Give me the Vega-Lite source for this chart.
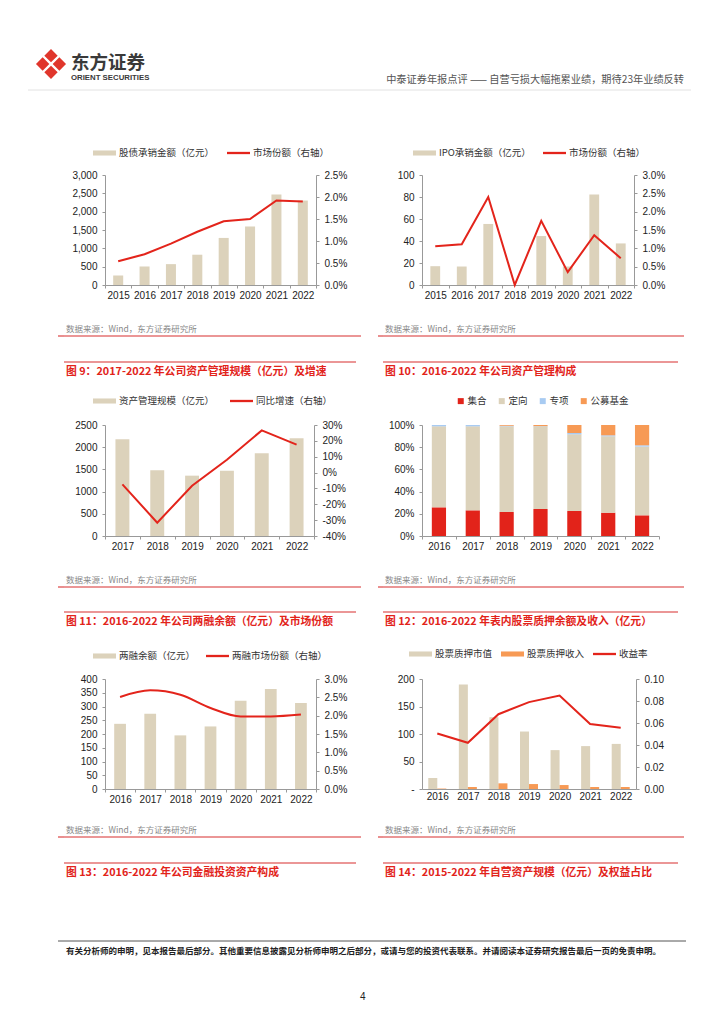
{
  "$schema": "https://vega.github.io/schema/vega-lite/v6.json",
  "background": "white",
  "padding": {"left": 27, "top": 48, "right": 10, "bottom": 10},
  "columns": 8,
  "bounds": "flush",
  "spacing": 0,
  "align": "none",
  "resolve": {"scale": {"color": "independent", "x": "independent", "y": "independent"}, "legend": {"color": "independent"}},
  "config": {
    "view": {"stroke": null},
    "font": "Noto Sans CJK SC",
    "axis": {"labelFont": "Liberation Sans", "labelFontSize": 10, "labelColor": "#222222", "domainColor": "#999999", "tickColor": "#999999", "tickSize": 3, "labelPadding": 5, "grid": false},
    "axisX": {"labelAngle": 0, "tickBand": "extent", "labelPadding": 2},
    "title": {"font": "Noto Sans CJK SC"},
    "legend": {"labelFont": "Noto Sans CJK SC", "labelFontSize": 9.5, "labelColor": "#333333", "padding": 0}
  },
  "datasets": {
    "uw": [
      {"year": "2015", "amount": 257, "share": 0.0054},
      {"year": "2016", "amount": 505, "share": 0.0070},
      {"year": "2017", "amount": 569, "share": 0.0094},
      {"year": "2018", "amount": 826, "share": 0.0121},
      {"year": "2019", "amount": 1284, "share": 0.0145},
      {"year": "2020", "amount": 1596, "share": 0.0150},
      {"year": "2021", "amount": 2468, "share": 0.0192},
      {"year": "2022", "amount": 2303, "share": 0.0190}
    ],
    "ipo": [
      {"year": "2015", "amount": 17.1, "share": 0.0106},
      {"year": "2016", "amount": 16.8, "share": 0.0111},
      {"year": "2017", "amount": 55.5, "share": 0.0240},
      {"year": "2018", "amount": 0, "share": 0.0},
      {"year": "2019", "amount": 44.5, "share": 0.0175},
      {"year": "2020", "amount": 16.8, "share": 0.0035},
      {"year": "2021", "amount": 82.3, "share": 0.0136},
      {"year": "2022", "amount": 37.8, "share": 0.0073}
    ],
    "am": [
      {"year": "2017", "aum": 2177, "growth": -0.074},
      {"year": "2018", "aum": 1479, "growth": -0.316},
      {"year": "2019", "aum": 1359, "growth": -0.083},
      {"year": "2020", "aum": 1471, "growth": 0.081},
      {"year": "2021", "aum": 1862, "growth": 0.266},
      {"year": "2022", "aum": 2200, "growth": 0.176}
    ],
    "ammix": [
      {"year": "2016", "type": "集合", "rank": 1, "pct": 25.8},
      {"year": "2016", "type": "定向", "rank": 2, "pct": 73.0},
      {"year": "2016", "type": "专项", "rank": 3, "pct": 1.2},
      {"year": "2016", "type": "公募基金", "rank": 4, "pct": 0},
      {"year": "2017", "type": "集合", "rank": 1, "pct": 23.1},
      {"year": "2017", "type": "定向", "rank": 2, "pct": 75.7},
      {"year": "2017", "type": "专项", "rank": 3, "pct": 1.2},
      {"year": "2017", "type": "公募基金", "rank": 4, "pct": 0},
      {"year": "2018", "type": "集合", "rank": 1, "pct": 21.6},
      {"year": "2018", "type": "定向", "rank": 2, "pct": 77.2},
      {"year": "2018", "type": "专项", "rank": 3, "pct": 0.5},
      {"year": "2018", "type": "公募基金", "rank": 4, "pct": 0.7},
      {"year": "2019", "type": "集合", "rank": 1, "pct": 24.3},
      {"year": "2019", "type": "定向", "rank": 2, "pct": 74.5},
      {"year": "2019", "type": "专项", "rank": 3, "pct": 0.2},
      {"year": "2019", "type": "公募基金", "rank": 4, "pct": 1.0},
      {"year": "2020", "type": "集合", "rank": 1, "pct": 22.5},
      {"year": "2020", "type": "定向", "rank": 2, "pct": 69.1},
      {"year": "2020", "type": "专项", "rank": 3, "pct": 1.2},
      {"year": "2020", "type": "公募基金", "rank": 4, "pct": 7.2},
      {"year": "2021", "type": "集合", "rank": 1, "pct": 21.0},
      {"year": "2021", "type": "定向", "rank": 2, "pct": 68.8},
      {"year": "2021", "type": "专项", "rank": 3, "pct": 0.9},
      {"year": "2021", "type": "公募基金", "rank": 4, "pct": 9.3},
      {"year": "2022", "type": "集合", "rank": 1, "pct": 18.6},
      {"year": "2022", "type": "定向", "rank": 2, "pct": 61.9},
      {"year": "2022", "type": "专项", "rank": 3, "pct": 1.2},
      {"year": "2022", "type": "公募基金", "rank": 4, "pct": 18.3}
    ],
    "margin": [
      {"year": "2016", "balance": 237, "share": 0.0251},
      {"year": "2017", "balance": 274, "share": 0.0269},
      {"year": "2018", "balance": 195, "share": 0.0257},
      {"year": "2019", "balance": 227.5, "share": 0.0221},
      {"year": "2020", "balance": 321, "share": 0.0198},
      {"year": "2021", "balance": 364, "share": 0.0198},
      {"year": "2022", "balance": 312.6, "share": 0.0203}
    ],
    "pledge": [
      {"year": "2016", "series": "股票质押市值", "value": 20},
      {"year": "2016", "series": "股票质押收入", "value": 0.8},
      {"year": "2017", "series": "股票质押市值", "value": 190},
      {"year": "2017", "series": "股票质押收入", "value": 3.6},
      {"year": "2018", "series": "股票质押市值", "value": 130.5},
      {"year": "2018", "series": "股票质押收入", "value": 10.3},
      {"year": "2019", "series": "股票质押市值", "value": 104.5},
      {"year": "2019", "series": "股票质押收入", "value": 9.0},
      {"year": "2020", "series": "股票质押市值", "value": 70.7},
      {"year": "2020", "series": "股票质押收入", "value": 7.2},
      {"year": "2021", "series": "股票质押市值", "value": 78},
      {"year": "2021", "series": "股票质押收入", "value": 3.6},
      {"year": "2022", "series": "股票质押市值", "value": 82},
      {"year": "2022", "series": "股票质押收入", "value": 3.6}
    ],
    "pledgeyield": [
      {"year": "2016", "yield": 0.0505},
      {"year": "2017", "yield": 0.042},
      {"year": "2018", "yield": 0.068},
      {"year": "2019", "yield": 0.079},
      {"year": "2020", "yield": 0.085},
      {"year": "2021", "yield": 0.059},
      {"year": "2022", "yield": 0.0556}
    ]
  },
  "concat": [
    {"width": 16, "height": 30, "data": {"values": []}, "mark": "point"},
    {"width": 14, "height": 30, "data": {"values": [{"brand": "东方证券"}]},
     "mark": {"type": "point", "filled": true, "color": "#e0362c", "opacity": 1, "size": 1115,
              "shape": "M-0.9,0L-0.5,-0.4L-0.1,0L-0.5,0.4Z M0,-0.9L0.4,-0.5L0,-0.1L-0.4,-0.5Z M0.9,0L0.5,0.4L0.1,0L0.5,-0.4Z M0,0.9L-0.4,0.5L0,0.1L0.4,0.5Z"}},
    {"width": 1, "height": 30, "data": {"values": []}, "mark": "point"},
    {"width": 1, "height": 30, "data": {"values": []}, "mark": "point",
     "title": {"text": "东方证券", "subtitle": "ORIENT SECURITIES", "orient": "bottom", "anchor": "start", "frame": "group", "offset": -25, "dx": 7, "fontSize": 18.5, "fontWeight": "bold", "color": "#3a3a3a", "subtitleFont": "Liberation Sans", "subtitleFontSize": 7.8, "subtitleFontWeight": "bold", "subtitleColor": "#3a3a3a", "subtitlePadding": 1}},
    {"width": 1, "height": 30, "data": {"values": []}, "mark": "point"},
    {"width": 1, "height": 30, "data": {"values": []}, "mark": "point"},
    {"width": 1, "height": 30, "data": {"values": []}, "mark": "point"},
    {"width": 262, "height": 30, "data": {"values": []}, "mark": "point",
     "title": {"text": "中泰证券年报点评 —— 自营亏损大幅拖累业绩，期待23年业绩反转", "orient": "bottom", "anchor": "end", "frame": "group", "offset": -4, "fontSize": 10.2, "fontWeight": "normal", "color": "#555555"}},

    {"width": 1, "height": 11, "data": {"values": []}, "mark": "point"},
    {"width": 1, "height": 11, "data": {"values": []}, "mark": "point"},
    {"width": 1, "height": 11, "data": {"values": []}, "mark": "point"},
    {"width": 1, "height": 11, "data": {"values": []}, "mark": "point"},
    {"width": 1, "height": 11, "data": {"values": []}, "mark": "point"},
    {"width": 1, "height": 11, "data": {"values": []}, "mark": "point"},
    {"width": 1, "height": 11, "data": {"values": []}, "mark": "point"},
    {"width": 1, "height": 11, "data": {"values": []}, "mark": "point"},

    {"width": 16, "height": 85, "data": {"values": [{"line": "页眉线"}]}, "mark": {"type": "rule", "color": "#e2e2e2", "strokeWidth": 1}, "encoding": {"y": {"datum": 1, "type": "quantitative", "scale": {"domain": [0, 1]}, "axis": null}}},
    {"width": 14, "height": 85, "data": {"values": [{"line": "页眉线"}]}, "mark": {"type": "rule", "color": "#e2e2e2", "strokeWidth": 1}, "encoding": {"y": {"datum": 1, "type": "quantitative", "scale": {"domain": [0, 1]}, "axis": null}}},
    {"width": 6, "height": 85, "data": {"values": [{"line": "页眉线"}]}, "mark": {"type": "rule", "color": "#e2e2e2", "strokeWidth": 1}, "encoding": {"y": {"datum": 1, "type": "quantitative", "scale": {"domain": [0, 1]}, "axis": null}}},
    {"width": 41, "height": 85, "data": {"values": [{"line": "页眉线"}]}, "mark": {"type": "rule", "color": "#e2e2e2", "strokeWidth": 1}, "encoding": {"y": {"datum": 1, "type": "quantitative", "scale": {"domain": [0, 1]}, "axis": null}}},
    {"width": 273, "height": 85, "data": {"values": [{"line": "页眉线"}]}, "mark": {"type": "rule", "color": "#e2e2e2", "strokeWidth": 1}, "encoding": {"y": {"datum": 1, "type": "quantitative", "scale": {"domain": [0, 1]}, "axis": null}}},
    {"width": 5, "height": 85, "data": {"values": [{"line": "页眉线"}]}, "mark": {"type": "rule", "color": "#e2e2e2", "strokeWidth": 1}, "encoding": {"y": {"datum": 1, "type": "quantitative", "scale": {"domain": [0, 1]}, "axis": null}}},
    {"width": 39, "height": 85, "data": {"values": [{"line": "页眉线"}]}, "mark": {"type": "rule", "color": "#e2e2e2", "strokeWidth": 1}, "encoding": {"y": {"datum": 1, "type": "quantitative", "scale": {"domain": [0, 1]}, "axis": null}}},
    {"width": 269, "height": 85, "data": {"values": [{"line": "页眉线"}]}, "mark": {"type": "rule", "color": "#e2e2e2", "strokeWidth": 1}, "encoding": {"y": {"datum": 1, "type": "quantitative", "scale": {"domain": [0, 1]}, "axis": null}}},

    {"width": 1, "height": 110, "data": {"values": []}, "mark": "point"},
    {"width": 1, "height": 110, "data": {"values": []}, "mark": "point"},
    {"width": 1, "height": 110, "data": {"values": []}, "mark": "point"},
    {"width": 1, "height": 110, "data": {"values": []}, "mark": "point"},
    {"width": 211, "height": 110, "data": {"name": "uw"},
     "encoding": {"x": {"field": "year", "type": "ordinal", "title": null, "scale": {"paddingInner": 0, "paddingOuter": 0}}},
     "layer": [
       {"mark": {"type": "bar", "width": {"band": 0.38}},
        "encoding": {
          "y": {"field": "amount", "type": "quantitative", "title": null, "scale": {"domain": [0, 3000]}, "axis": {"values": [0, 500, 1000, 1500, 2000, 2500, 3000], "format": ",d"}},
          "color": {"datum": "股债承销金额（亿元）", "scale": {"domain": ["股债承销金额（亿元）", "市场份额（右轴）"], "range": ["#dcd2bb", "#e3241b"]},
            "legend": {"orient": "none", "legendX": -12, "legendY": -33.5, "direction": "horizontal", "columns": 2, "title": null, "columnPadding": 12, "labelOffset": 3, "symbolType": "M-1,-0.22H1V0.22H-1Z", "symbolSize": 529, "symbolStrokeWidth": 0,
              "encode": {"symbols": {"update": {"shape": {"signal": "datum.value === '市场份额（右轴）' ? 'M-1,-0.1H1V0.1H-1Z' : 'M-1,-0.22H1V0.22H-1Z'"}, "fill": {"signal": "datum.value === '市场份额（右轴）' ? '#e3241b' : '#dcd2bb'"}, "opacity": {"value": 1}}}}}}}},
       {"mark": {"type": "line", "strokeWidth": 2},
        "encoding": {
          "y": {"field": "share", "type": "quantitative", "title": null, "scale": {"domain": [0, 0.025]}, "axis": {"orient": "right", "values": [0, 0.005, 0.01, 0.015, 0.02, 0.025], "format": ".1%"}},
          "color": {"datum": "市场份额（右轴）"}}}
     ],
     "resolve": {"scale": {"y": "independent"}}},
    {"width": 1, "height": 110, "data": {"values": []}, "mark": "point"},
    {"width": 1, "height": 110, "data": {"values": []}, "mark": "point"},
    {"width": 212, "height": 110, "data": {"name": "ipo"},
     "encoding": {"x": {"field": "year", "type": "ordinal", "title": null, "scale": {"paddingInner": 0, "paddingOuter": 0}}},
     "layer": [
       {"mark": {"type": "bar", "width": {"band": 0.37}},
        "encoding": {
          "y": {"field": "amount", "type": "quantitative", "title": null, "scale": {"domain": [0, 100]}, "axis": {"values": [0, 20, 40, 60, 80, 100], "format": "d"}},
          "color": {"datum": "IPO承销金额（亿元）", "scale": {"domain": ["IPO承销金额（亿元）", "市场份额（右轴）"], "range": ["#dcd2bb", "#e3241b"]},
            "legend": {"orient": "none", "legendX": -9, "legendY": -33.5, "direction": "horizontal", "columns": 2, "title": null, "columnPadding": 12, "labelOffset": 3, "symbolType": "M-1,-0.22H1V0.22H-1Z", "symbolSize": 529, "symbolStrokeWidth": 0,
              "encode": {"symbols": {"update": {"shape": {"signal": "datum.value === '市场份额（右轴）' ? 'M-1,-0.1H1V0.1H-1Z' : 'M-1,-0.22H1V0.22H-1Z'"}, "fill": {"signal": "datum.value === '市场份额（右轴）' ? '#e3241b' : '#dcd2bb'"}, "opacity": {"value": 1}}}}}}}},
       {"mark": {"type": "line", "strokeWidth": 2},
        "encoding": {
          "y": {"field": "share", "type": "quantitative", "title": null, "scale": {"domain": [0, 0.03]}, "axis": {"orient": "right", "values": [0, 0.005, 0.01, 0.015, 0.02, 0.025, 0.03], "format": ".1%"}},
          "color": {"datum": "市场份额（右轴）"}}}
     ],
     "resolve": {"scale": {"y": "independent"}}},

    {"width": 1, "height": 51, "data": {"values": []}, "mark": "point"},
    {"width": 1, "height": 51, "data": {"values": []}, "mark": "point"},
    {"width": 1, "height": 51, "data": {"values": []}, "mark": "point"},
    {"width": 1, "height": 51, "data": {"values": []}, "mark": "point"},
    {"width": 1, "height": 51, "data": {"values": []}, "mark": "point"},
    {"width": 1, "height": 51, "data": {"values": []}, "mark": "point"},
    {"width": 1, "height": 51, "data": {"values": []}, "mark": "point"},
    {"width": 1, "height": 51, "data": {"values": []}, "mark": "point"},

    {"width": 1, "height": 26, "data": {"values": []}, "mark": "point"},
    {"width": 1, "height": 26, "data": {"values": []}, "mark": "point"},
    {"width": 6, "height": 26, "data": {"values": [{"line": "来源线"}]}, "mark": {"type": "rule", "color": "#e57373", "strokeWidth": 1.6}, "encoding": {"y": {"datum": 1, "type": "quantitative", "scale": {"domain": [0, 1]}, "axis": null}},
     "title": {"text": "数据来源：Wind，东方证券研究所", "orient": "top", "anchor": "start", "frame": "group", "offset": 2, "dx": 8, "fontSize": 8.5, "fontWeight": "normal", "color": "#888888"}},
    {"width": 41, "height": 26, "data": {"values": [{"line": "来源线"}]}, "mark": {"type": "rule", "color": "#e57373", "strokeWidth": 1.6}, "encoding": {"y": {"datum": 1, "type": "quantitative", "scale": {"domain": [0, 1]}, "axis": null}}},
    {"width": 256, "height": 26, "data": {"values": [{"line": "来源线"}]}, "mark": {"type": "rule", "color": "#e57373", "strokeWidth": 1.6}, "encoding": {"y": {"datum": 1, "type": "quantitative", "scale": {"domain": [0, 1]}, "axis": null}}},
    {"width": 5, "height": 26, "data": {"values": [{"line": "来源线"}]}, "mark": {"type": "rule", "color": "#e57373", "strokeWidth": 1.6}, "encoding": {"y": {"datum": 1, "type": "quantitative", "scale": {"domain": [0, 1]}, "axis": null}},
     "title": {"text": "数据来源：Wind，东方证券研究所", "orient": "top", "anchor": "start", "frame": "group", "offset": 2, "dx": 7, "fontSize": 8.5, "fontWeight": "normal", "color": "#888888"}},
    {"width": 39, "height": 26, "data": {"values": [{"line": "来源线"}]}, "mark": {"type": "rule", "color": "#e57373", "strokeWidth": 1.6}, "encoding": {"y": {"datum": 1, "type": "quantitative", "scale": {"domain": [0, 1]}, "axis": null}}},
    {"width": 262, "height": 26, "data": {"values": [{"line": "来源线"}]}, "mark": {"type": "rule", "color": "#e57373", "strokeWidth": 1.6}, "encoding": {"y": {"datum": 1, "type": "quantitative", "scale": {"domain": [0, 1]}, "axis": null}}},

    {"width": 1, "height": 1, "data": {"values": []}, "mark": "point"},
    {"width": 1, "height": 1, "data": {"values": []}, "mark": "point"},
    {"width": 1, "height": 1, "data": {"values": []}, "mark": "point"},
    {"width": 41, "height": 1, "data": {"values": [{"line": "图注线"}]}, "mark": {"type": "rule", "color": "#e57373", "strokeWidth": 1.6}, "encoding": {"y": {"datum": 1, "type": "quantitative", "scale": {"domain": [0, 1]}, "axis": null}},
     "title": {"text": "图 9：2017-2022 年公司资产管理规模（亿元）及增速", "orient": "bottom", "anchor": "start", "frame": "group", "offset": 3, "dx": 2, "fontSize": 10.8, "fontWeight": "bold", "color": "#e2231a"}},
    {"width": 251, "height": 1, "data": {"values": [{"line": "图注线"}]}, "mark": {"type": "rule", "color": "#e57373", "strokeWidth": 1.6}, "encoding": {"y": {"datum": 1, "type": "quantitative", "scale": {"domain": [0, 1]}, "axis": null}}},
    {"width": 1, "height": 1, "data": {"values": []}, "mark": "point"},
    {"width": 39, "height": 1, "data": {"values": [{"line": "图注线"}]}, "mark": {"type": "rule", "color": "#e57373", "strokeWidth": 1.6}, "encoding": {"y": {"datum": 1, "type": "quantitative", "scale": {"domain": [0, 1]}, "axis": null}},
     "title": {"text": "图 10：2016-2022 年公司资产管理构成", "orient": "bottom", "anchor": "start", "frame": "group", "offset": 3, "dx": 2, "fontSize": 10.8, "fontWeight": "bold", "color": "#e2231a"}},
    {"width": 256, "height": 1, "data": {"values": [{"line": "图注线"}]}, "mark": {"type": "rule", "color": "#e57373", "strokeWidth": 1.6}, "encoding": {"y": {"datum": 1, "type": "quantitative", "scale": {"domain": [0, 1]}, "axis": null}}},

    {"width": 1, "height": 62, "data": {"values": []}, "mark": "point"},
    {"width": 1, "height": 62, "data": {"values": []}, "mark": "point"},
    {"width": 1, "height": 62, "data": {"values": []}, "mark": "point"},
    {"width": 1, "height": 62, "data": {"values": []}, "mark": "point"},
    {"width": 1, "height": 62, "data": {"values": []}, "mark": "point"},
    {"width": 1, "height": 62, "data": {"values": []}, "mark": "point"},
    {"width": 1, "height": 62, "data": {"values": []}, "mark": "point"},
    {"width": 1, "height": 62, "data": {"values": []}, "mark": "point"},

    {"width": 1, "height": 111, "data": {"values": []}, "mark": "point"},
    {"width": 1, "height": 111, "data": {"values": []}, "mark": "point"},
    {"width": 1, "height": 111, "data": {"values": []}, "mark": "point"},
    {"width": 1, "height": 111, "data": {"values": []}, "mark": "point"},
    {"width": 209, "height": 111, "data": {"name": "am"},
     "encoding": {"x": {"field": "year", "type": "ordinal", "title": null, "scale": {"paddingInner": 0, "paddingOuter": 0}}},
     "layer": [
       {"mark": {"type": "bar", "width": {"band": 0.4}},
        "encoding": {
          "y": {"field": "aum", "type": "quantitative", "title": null, "scale": {"domain": [0, 2500]}, "axis": {"values": [0, 500, 1000, 1500, 2000, 2500], "format": "d"}},
          "color": {"datum": "资产管理规模（亿元）", "scale": {"domain": ["资产管理规模（亿元）", "同比增速（右轴）"], "range": ["#dcd2bb", "#e3241b"]},
            "legend": {"orient": "none", "legendX": -12, "legendY": -35.5, "direction": "horizontal", "columns": 2, "title": null, "columnPadding": 15, "labelOffset": 3, "symbolType": "M-1,-0.22H1V0.22H-1Z", "symbolSize": 529, "symbolStrokeWidth": 0,
              "encode": {"symbols": {"update": {"shape": {"signal": "datum.value === '同比增速（右轴）' ? 'M-1,-0.1H1V0.1H-1Z' : 'M-1,-0.22H1V0.22H-1Z'"}, "fill": {"signal": "datum.value === '同比增速（右轴）' ? '#e3241b' : '#dcd2bb'"}, "opacity": {"value": 1}}}}}}}},
       {"mark": {"type": "line", "strokeWidth": 2},
        "encoding": {
          "y": {"field": "growth", "type": "quantitative", "title": null, "scale": {"domain": [-0.4, 0.3], "zero": false, "nice": false}, "axis": {"orient": "right", "values": [-0.4, -0.3, -0.2, -0.1, 0, 0.1, 0.2, 0.3], "format": ".0%", "labelExpr": "replace(datum.label, '−', '-')"}},
          "color": {"datum": "同比增速（右轴）"}}}
     ],
     "resolve": {"scale": {"y": "independent"}}},
    {"width": 1, "height": 111, "data": {"values": []}, "mark": "point"},
    {"width": 1, "height": 111, "data": {"values": []}, "mark": "point"},
    {"width": 237, "height": 111, "data": {"name": "ammix"},
     "mark": {"type": "bar", "width": {"band": 0.42}},
     "encoding": {
       "x": {"field": "year", "type": "ordinal", "title": null, "scale": {"paddingInner": 0, "paddingOuter": 0}},
       "y": {"field": "pct", "type": "quantitative", "stack": "normalize", "title": null, "axis": {"values": [0, 0.2, 0.4, 0.6, 0.8, 1], "format": ".0%"}},
       "order": {"field": "rank", "type": "quantitative", "sort": "ascending"},
       "color": {"field": "type", "type": "nominal", "sort": ["集合", "定向", "专项", "公募基金"], "scale": {"domain": ["集合", "定向", "专项", "公募基金"], "range": ["#e2231a", "#dcd2bb", "#a8cbf2", "#f79a55"]},
         "legend": {"orient": "none", "legendX": 34, "legendY": -29, "direction": "horizontal", "columns": 4, "title": null, "columnPadding": 10, "labelOffset": 2, "symbolType": "square", "symbolSize": 36, "symbolStrokeWidth": 0, "symbolOpacity": 1}}
     }},

    {"width": 1, "height": 51, "data": {"values": []}, "mark": "point"},
    {"width": 1, "height": 51, "data": {"values": []}, "mark": "point"},
    {"width": 1, "height": 51, "data": {"values": []}, "mark": "point"},
    {"width": 1, "height": 51, "data": {"values": []}, "mark": "point"},
    {"width": 1, "height": 51, "data": {"values": []}, "mark": "point"},
    {"width": 1, "height": 51, "data": {"values": []}, "mark": "point"},
    {"width": 1, "height": 51, "data": {"values": []}, "mark": "point"},
    {"width": 1, "height": 51, "data": {"values": []}, "mark": "point"},

    {"width": 1, "height": 25, "data": {"values": []}, "mark": "point"},
    {"width": 1, "height": 25, "data": {"values": []}, "mark": "point"},
    {"width": 6, "height": 25, "data": {"values": [{"line": "来源线"}]}, "mark": {"type": "rule", "color": "#e57373", "strokeWidth": 1.6}, "encoding": {"y": {"datum": 1, "type": "quantitative", "scale": {"domain": [0, 1]}, "axis": null}},
     "title": {"text": "数据来源：Wind，东方证券研究所", "orient": "top", "anchor": "start", "frame": "group", "offset": 2, "dx": 8, "fontSize": 8.5, "fontWeight": "normal", "color": "#888888"}},
    {"width": 41, "height": 25, "data": {"values": [{"line": "来源线"}]}, "mark": {"type": "rule", "color": "#e57373", "strokeWidth": 1.6}, "encoding": {"y": {"datum": 1, "type": "quantitative", "scale": {"domain": [0, 1]}, "axis": null}}},
    {"width": 256, "height": 25, "data": {"values": [{"line": "来源线"}]}, "mark": {"type": "rule", "color": "#e57373", "strokeWidth": 1.6}, "encoding": {"y": {"datum": 1, "type": "quantitative", "scale": {"domain": [0, 1]}, "axis": null}}},
    {"width": 5, "height": 25, "data": {"values": [{"line": "来源线"}]}, "mark": {"type": "rule", "color": "#e57373", "strokeWidth": 1.6}, "encoding": {"y": {"datum": 1, "type": "quantitative", "scale": {"domain": [0, 1]}, "axis": null}},
     "title": {"text": "数据来源：Wind，东方证券研究所", "orient": "top", "anchor": "start", "frame": "group", "offset": 2, "dx": 7, "fontSize": 8.5, "fontWeight": "normal", "color": "#888888"}},
    {"width": 39, "height": 25, "data": {"values": [{"line": "来源线"}]}, "mark": {"type": "rule", "color": "#e57373", "strokeWidth": 1.6}, "encoding": {"y": {"datum": 1, "type": "quantitative", "scale": {"domain": [0, 1]}, "axis": null}}},
    {"width": 262, "height": 25, "data": {"values": [{"line": "来源线"}]}, "mark": {"type": "rule", "color": "#e57373", "strokeWidth": 1.6}, "encoding": {"y": {"datum": 1, "type": "quantitative", "scale": {"domain": [0, 1]}, "axis": null}}},

    {"width": 1, "height": 1, "data": {"values": []}, "mark": "point"},
    {"width": 1, "height": 1, "data": {"values": []}, "mark": "point"},
    {"width": 1, "height": 1, "data": {"values": []}, "mark": "point"},
    {"width": 41, "height": 1, "data": {"values": [{"line": "图注线"}]}, "mark": {"type": "rule", "color": "#e57373", "strokeWidth": 1.6}, "encoding": {"y": {"datum": 1, "type": "quantitative", "scale": {"domain": [0, 1]}, "axis": null}},
     "title": {"text": "图 11：2016-2022 年公司两融余额（亿元）及市场份额", "orient": "bottom", "anchor": "start", "frame": "group", "offset": 3, "dx": 2, "fontSize": 10.8, "fontWeight": "bold", "color": "#e2231a"}},
    {"width": 251, "height": 1, "data": {"values": [{"line": "图注线"}]}, "mark": {"type": "rule", "color": "#e57373", "strokeWidth": 1.6}, "encoding": {"y": {"datum": 1, "type": "quantitative", "scale": {"domain": [0, 1]}, "axis": null}}},
    {"width": 1, "height": 1, "data": {"values": []}, "mark": "point"},
    {"width": 39, "height": 1, "data": {"values": [{"line": "图注线"}]}, "mark": {"type": "rule", "color": "#e57373", "strokeWidth": 1.6}, "encoding": {"y": {"datum": 1, "type": "quantitative", "scale": {"domain": [0, 1]}, "axis": null}},
     "title": {"text": "图 12：2016-2022 年表内股票质押余额及收入（亿元）", "orient": "bottom", "anchor": "start", "frame": "group", "offset": 3, "dx": 2, "fontSize": 10.8, "fontWeight": "bold", "color": "#e2231a"}},
    {"width": 256, "height": 1, "data": {"values": [{"line": "图注线"}]}, "mark": {"type": "rule", "color": "#e57373", "strokeWidth": 1.6}, "encoding": {"y": {"datum": 1, "type": "quantitative", "scale": {"domain": [0, 1]}, "axis": null}}},

    {"width": 1, "height": 66, "data": {"values": []}, "mark": "point"},
    {"width": 1, "height": 66, "data": {"values": []}, "mark": "point"},
    {"width": 1, "height": 66, "data": {"values": []}, "mark": "point"},
    {"width": 1, "height": 66, "data": {"values": []}, "mark": "point"},
    {"width": 1, "height": 66, "data": {"values": []}, "mark": "point"},
    {"width": 1, "height": 66, "data": {"values": []}, "mark": "point"},
    {"width": 1, "height": 66, "data": {"values": []}, "mark": "point"},
    {"width": 1, "height": 66, "data": {"values": []}, "mark": "point"},

    {"width": 1, "height": 110, "data": {"values": []}, "mark": "point"},
    {"width": 1, "height": 110, "data": {"values": []}, "mark": "point"},
    {"width": 1, "height": 110, "data": {"values": []}, "mark": "point"},
    {"width": 1, "height": 110, "data": {"values": []}, "mark": "point"},
    {"width": 211, "height": 110, "data": {"name": "margin"},
     "encoding": {"x": {"field": "year", "type": "ordinal", "title": null, "scale": {"paddingInner": 0, "paddingOuter": 0}}},
     "layer": [
       {"mark": {"type": "bar", "width": {"band": 0.39}},
        "encoding": {
          "y": {"field": "balance", "type": "quantitative", "title": null, "scale": {"domain": [0, 400]}, "axis": {"values": [0, 50, 100, 150, 200, 250, 300, 350, 400], "format": "d"}},
          "color": {"datum": "两融余额（亿元）", "scale": {"domain": ["两融余额（亿元）", "两融市场份额（右轴）"], "range": ["#dcd2bb", "#e3241b"]},
            "legend": {"orient": "none", "legendX": -12, "legendY": -34.5, "direction": "horizontal", "columns": 2, "title": null, "columnPadding": 10, "labelOffset": 3, "symbolType": "M-1,-0.22H1V0.22H-1Z", "symbolSize": 529, "symbolStrokeWidth": 0,
              "encode": {"symbols": {"update": {"shape": {"signal": "datum.value === '两融市场份额（右轴）' ? 'M-1,-0.1H1V0.1H-1Z' : 'M-1,-0.22H1V0.22H-1Z'"}, "fill": {"signal": "datum.value === '两融市场份额（右轴）' ? '#e3241b' : '#dcd2bb'"}, "opacity": {"value": 1}}}}}}}},
       {"mark": {"type": "line", "strokeWidth": 2, "interpolate": "monotone"},
        "encoding": {
          "y": {"field": "share", "type": "quantitative", "title": null, "scale": {"domain": [0, 0.03]}, "axis": {"orient": "right", "values": [0, 0.005, 0.01, 0.015, 0.02, 0.025, 0.03], "format": ".1%"}},
          "color": {"datum": "两融市场份额（右轴）"}}}
     ],
     "resolve": {"scale": {"y": "independent"}}},
    {"width": 1, "height": 110, "data": {"values": []}, "mark": "point"},
    {"width": 1, "height": 110, "data": {"values": []}, "mark": "point"},
    {"width": 214, "height": 110,
     "encoding": {"x": {"field": "year", "type": "ordinal", "title": null, "scale": {"paddingInner": 0.41, "paddingOuter": 0.205}, "axis": {"ticks": false}}},
     "layer": [
       {"data": {"name": "pledge"}, "mark": {"type": "bar"},
        "encoding": {
          "xOffset": {"field": "series", "type": "nominal", "sort": ["股票质押市值", "股票质押收入"], "scale": {"paddingInner": 0, "paddingOuter": 0}},
          "y": {"field": "value", "type": "quantitative", "title": null, "scale": {"domain": [0, 200]}, "axis": {"values": [0, 50, 100, 150, 200], "format": "d", "labelExpr": "datum.value === 0 ? '-' : datum.label"}},
          "color": {"field": "series", "type": "nominal", "scale": {"domain": ["股票质押市值", "股票质押收入", "收益率"], "range": ["#dcd2bb", "#f79a55", "#e3241b"]},
            "legend": {"orient": "none", "legendX": -13, "legendY": -36.5, "direction": "horizontal", "columns": 3, "title": null, "columnPadding": 8, "labelOffset": 3, "symbolType": "M-1,-0.22H1V0.22H-1Z", "symbolSize": 529, "symbolStrokeWidth": 0,
              "encode": {"symbols": {"update": {"shape": {"signal": "datum.value === '收益率' ? 'M-1,-0.1H1V0.1H-1Z' : 'M-1,-0.22H1V0.22H-1Z'"}, "fill": {"signal": "datum.value === '收益率' ? '#e3241b' : datum.value === '股票质押收入' ? '#f79a55' : '#dcd2bb'"}, "opacity": {"value": 1}}}}}}}},
       {"data": {"name": "pledgeyield"}, "mark": {"type": "line", "strokeWidth": 2},
        "encoding": {
          "y": {"field": "yield", "type": "quantitative", "title": null, "scale": {"domain": [0, 0.1]}, "axis": {"orient": "right", "values": [0, 0.02, 0.04, 0.06, 0.08, 0.1], "format": ".2f"}},
          "color": {"datum": "收益率"}}}
     ],
     "resolve": {"scale": {"y": "independent"}}},

    {"width": 1, "height": 48, "data": {"values": []}, "mark": "point"},
    {"width": 1, "height": 48, "data": {"values": []}, "mark": "point"},
    {"width": 1, "height": 48, "data": {"values": []}, "mark": "point"},
    {"width": 1, "height": 48, "data": {"values": []}, "mark": "point"},
    {"width": 1, "height": 48, "data": {"values": []}, "mark": "point"},
    {"width": 1, "height": 48, "data": {"values": []}, "mark": "point"},
    {"width": 1, "height": 48, "data": {"values": []}, "mark": "point"},
    {"width": 1, "height": 48, "data": {"values": []}, "mark": "point"},

    {"width": 1, "height": 26, "data": {"values": []}, "mark": "point"},
    {"width": 1, "height": 26, "data": {"values": []}, "mark": "point"},
    {"width": 6, "height": 26, "data": {"values": [{"line": "来源线"}]}, "mark": {"type": "rule", "color": "#e57373", "strokeWidth": 1.6}, "encoding": {"y": {"datum": 1, "type": "quantitative", "scale": {"domain": [0, 1]}, "axis": null}},
     "title": {"text": "数据来源：Wind，东方证券研究所", "orient": "top", "anchor": "start", "frame": "group", "offset": 2, "dx": 8, "fontSize": 8.5, "fontWeight": "normal", "color": "#888888"}},
    {"width": 41, "height": 26, "data": {"values": [{"line": "来源线"}]}, "mark": {"type": "rule", "color": "#e57373", "strokeWidth": 1.6}, "encoding": {"y": {"datum": 1, "type": "quantitative", "scale": {"domain": [0, 1]}, "axis": null}}},
    {"width": 256, "height": 26, "data": {"values": [{"line": "来源线"}]}, "mark": {"type": "rule", "color": "#e57373", "strokeWidth": 1.6}, "encoding": {"y": {"datum": 1, "type": "quantitative", "scale": {"domain": [0, 1]}, "axis": null}}},
    {"width": 5, "height": 26, "data": {"values": [{"line": "来源线"}]}, "mark": {"type": "rule", "color": "#e57373", "strokeWidth": 1.6}, "encoding": {"y": {"datum": 1, "type": "quantitative", "scale": {"domain": [0, 1]}, "axis": null}},
     "title": {"text": "数据来源：Wind，东方证券研究所", "orient": "top", "anchor": "start", "frame": "group", "offset": 2, "dx": 7, "fontSize": 8.5, "fontWeight": "normal", "color": "#888888"}},
    {"width": 39, "height": 26, "data": {"values": [{"line": "来源线"}]}, "mark": {"type": "rule", "color": "#e57373", "strokeWidth": 1.6}, "encoding": {"y": {"datum": 1, "type": "quantitative", "scale": {"domain": [0, 1]}, "axis": null}}},
    {"width": 262, "height": 26, "data": {"values": [{"line": "来源线"}]}, "mark": {"type": "rule", "color": "#e57373", "strokeWidth": 1.6}, "encoding": {"y": {"datum": 1, "type": "quantitative", "scale": {"domain": [0, 1]}, "axis": null}}},

    {"width": 1, "height": 1, "data": {"values": []}, "mark": "point"},
    {"width": 1, "height": 1, "data": {"values": []}, "mark": "point"},
    {"width": 1, "height": 1, "data": {"values": []}, "mark": "point"},
    {"width": 41, "height": 1, "data": {"values": [{"line": "图注线"}]}, "mark": {"type": "rule", "color": "#e57373", "strokeWidth": 1.6}, "encoding": {"y": {"datum": 1, "type": "quantitative", "scale": {"domain": [0, 1]}, "axis": null}},
     "title": {"text": "图 13：2016-2022 年公司金融投资资产构成", "orient": "bottom", "anchor": "start", "frame": "group", "offset": 3, "dx": 2, "fontSize": 10.8, "fontWeight": "bold", "color": "#e2231a"}},
    {"width": 251, "height": 1, "data": {"values": [{"line": "图注线"}]}, "mark": {"type": "rule", "color": "#e57373", "strokeWidth": 1.6}, "encoding": {"y": {"datum": 1, "type": "quantitative", "scale": {"domain": [0, 1]}, "axis": null}}},
    {"width": 1, "height": 1, "data": {"values": []}, "mark": "point"},
    {"width": 39, "height": 1, "data": {"values": [{"line": "图注线"}]}, "mark": {"type": "rule", "color": "#e57373", "strokeWidth": 1.6}, "encoding": {"y": {"datum": 1, "type": "quantitative", "scale": {"domain": [0, 1]}, "axis": null}},
     "title": {"text": "图 14：2015-2022 年自营资产规模（亿元）及权益占比", "orient": "bottom", "anchor": "start", "frame": "group", "offset": 3, "dx": 2, "fontSize": 10.8, "fontWeight": "bold", "color": "#e2231a"}},
    {"width": 256, "height": 1, "data": {"values": [{"line": "图注线"}]}, "mark": {"type": "rule", "color": "#e57373", "strokeWidth": 1.6}, "encoding": {"y": {"datum": 1, "type": "quantitative", "scale": {"domain": [0, 1]}, "axis": null}}},

    {"width": 1, "height": 77, "data": {"values": []}, "mark": "point"},
    {"width": 1, "height": 77, "data": {"values": []}, "mark": "point"},
    {"width": 1, "height": 77, "data": {"values": []}, "mark": "point"},
    {"width": 1, "height": 77, "data": {"values": []}, "mark": "point"},
    {"width": 1, "height": 77, "data": {"values": []}, "mark": "point"},
    {"width": 1, "height": 77, "data": {"values": []}, "mark": "point"},
    {"width": 1, "height": 77, "data": {"values": []}, "mark": "point"},
    {"width": 1, "height": 77, "data": {"values": []}, "mark": "point"},

    {"width": 1, "height": 1, "data": {"values": []}, "mark": "point"},
    {"width": 1, "height": 1, "data": {"values": []}, "mark": "point"},
    {"width": 6, "height": 1, "data": {"values": [{"line": "页脚线"}]}, "mark": {"type": "rule", "color": "#555555", "strokeWidth": 1}, "encoding": {"y": {"datum": 1, "type": "quantitative", "scale": {"domain": [0, 1]}, "axis": null}},
     "title": {"text": "有关分析师的申明，见本报告最后部分。其他重要信息披露见分析师申明之后部分，或请与您的投资代表联系。并请阅读本证券研究报告最后一页的免责申明。", "orient": "bottom", "anchor": "start", "frame": "group", "offset": 5, "dx": 8, "fontSize": 8.5, "fontWeight": "bold", "color": "#222222"}},
    {"width": 41, "height": 1, "data": {"values": [{"line": "页脚线"}]}, "mark": {"type": "rule", "color": "#555555", "strokeWidth": 1}, "encoding": {"y": {"datum": 1, "type": "quantitative", "scale": {"domain": [0, 1]}, "axis": null}}},
    {"width": 273, "height": 1, "data": {"values": [{"line": "页脚线"}]}, "mark": {"type": "rule", "color": "#555555", "strokeWidth": 1}, "encoding": {"y": {"datum": 1, "type": "quantitative", "scale": {"domain": [0, 1]}, "axis": null}}},
    {"width": 5, "height": 1, "data": {"values": [{"line": "页脚线"}]}, "mark": {"type": "rule", "color": "#555555", "strokeWidth": 1}, "encoding": {"y": {"datum": 1, "type": "quantitative", "scale": {"domain": [0, 1]}, "axis": null}}},
    {"width": 39, "height": 1, "data": {"values": [{"line": "页脚线"}]}, "mark": {"type": "rule", "color": "#555555", "strokeWidth": 1}, "encoding": {"y": {"datum": 1, "type": "quantitative", "scale": {"domain": [0, 1]}, "axis": null}}},
    {"width": 264, "height": 1, "data": {"values": [{"line": "页脚线"}]}, "mark": {"type": "rule", "color": "#555555", "strokeWidth": 1}, "encoding": {"y": {"datum": 1, "type": "quantitative", "scale": {"domain": [0, 1]}, "axis": null}}},

    {"width": 1, "height": 49, "data": {"values": []}, "mark": "point"},
    {"width": 1, "height": 49, "data": {"values": []}, "mark": "point"},
    {"width": 1, "height": 49, "data": {"values": []}, "mark": "point"},
    {"width": 1, "height": 49, "data": {"values": []}, "mark": "point"},
    {"width": 1, "height": 49, "data": {"values": []}, "mark": "point"},
    {"width": 1, "height": 49, "data": {"values": []}, "mark": "point"},
    {"width": 1, "height": 49, "data": {"values": []}, "mark": "point"},
    {"width": 1, "height": 49, "data": {"values": []}, "mark": "point"},

    {"width": 1, "height": 1, "data": {"values": []}, "mark": "point",
     "title": {"text": "4", "orient": "bottom", "anchor": "start", "frame": "group", "offset": 0, "dx": 332, "font": "Liberation Sans", "fontSize": 10, "fontWeight": "normal", "color": "#222222"}},
    {"width": 1, "height": 1, "data": {"values": []}, "mark": "point"},
    {"width": 1, "height": 1, "data": {"values": []}, "mark": "point"},
    {"width": 1, "height": 1, "data": {"values": []}, "mark": "point"},
    {"width": 1, "height": 1, "data": {"values": []}, "mark": "point"},
    {"width": 1, "height": 1, "data": {"values": []}, "mark": "point"},
    {"width": 1, "height": 1, "data": {"values": []}, "mark": "point"},
    {"width": 1, "height": 1, "data": {"values": []}, "mark": "point"}
  ]
}
